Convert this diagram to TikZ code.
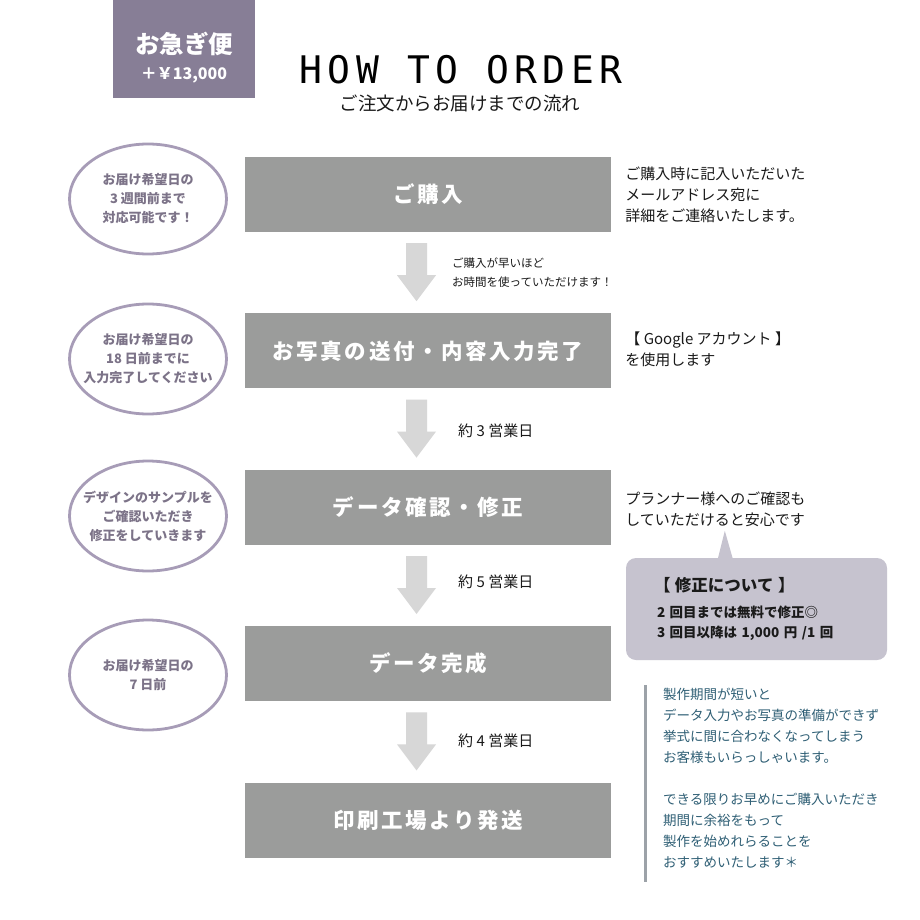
\documentclass[tikz,border=0pt]{standalone}
\usepackage{fontspec}
\setmainfont{Noto Sans CJK JP}
\newfontfamily\titlefont[LetterSpace=14]{DejaVu Sans Mono}
\newfontfamily\boxfont[LetterSpace=12]{Noto Sans CJK JP}
\usetikzlibrary{positioning,calc,shapes.geometric}

\definecolor{badgepurple}{HTML}{877E96}
\definecolor{boxgray}{HTML}{9B9C9B}
\definecolor{arrowgray}{HTML}{D7D7D7}
\definecolor{ovalline}{HTML}{A79CB7}
\definecolor{ovaltext}{HTML}{7C7388}
\definecolor{bubblefill}{HTML}{C6C3CF}
\definecolor{noteteal}{HTML}{2F5F75}
\definecolor{barcolor}{HTML}{9CA2A8}
\definecolor{inkblack}{HTML}{1A1A1A}

\tikzset{
  stepbox/.style={fill=boxgray, minimum width=366pt, minimum height=75pt, inner sep=0pt,
    text=white, font=\fontsize{21.5}{25}\boxfont\bfseries},
  dateoval/.style={ellipse, draw=ovalline, line width=2.8pt, minimum width=157pt,
    minimum height=110pt, inner sep=0pt},
  ovallabel/.style={align=center, text=ovaltext, inner sep=0pt,
    font=\fontsize{13}{19}\selectfont\bfseries},
  sidenote/.style={anchor=west, align=left, inner sep=0pt, text=inkblack,
    font=\fontsize{15}{21}\selectfont},
  waitnote/.style={anchor=west, align=left, inner sep=0pt, text=inkblack,
    font=\fontsize{15}{19}\selectfont},
}

\begin{document}
\begin{tikzpicture}[x=1pt, y=-1pt, node distance=81pt]
  \useasboundingbox[fill=white] (0,0) rectangle (920,920);

  % -- Express badge --
  \node[fill=badgepurple, minimum width=142pt, minimum height=98pt, inner sep=0pt] (badge) at (184,49) {};
  \node[align=center, text=white, inner sep=0pt, font=\fontsize{24.5}{28}\selectfont\bfseries] (badgetext) at (184,58)
    {お急ぎ便\\[-2pt]{\fontsize{16}{18}\selectfont ＋￥13,000}};

  % -- Title --
  \node[font=\fontsize{38}{40}\titlefont] (title) at (461,70) {HOW TO ORDER};
  \node[font=\fontsize{18.5}{22}\selectfont, text=inkblack] (subtitle) at (460,103) {ご注文からお届けまでの流れ};

  % -- Steps --
  \node[stepbox] (b1) at (428,194.5) {ご購入};
  \node[stepbox, below=of b1] (b2) {お写真の送付・内容入力完了};
  \node[stepbox, below=of b2] (b3) {データ確認・修正};
  \node[stepbox, below=of b3] (b4) {データ完成};
  \node[stepbox, below=of b4] (b5) {印刷工場より発送};

  % -- Block arrows --
  \foreach \s in {b1,b2,b3,b4}
    \fill[arrowgray] ($(\s.south)+(-22,11)$) -- ++(21,0) -- ++(0,32) -- ++(9,0)
      -- ++(-19.5,26) -- ++(-19.5,-26) -- ++(9,0) -- cycle;

  % -- Waiting times --
  \node[waitnote, font=\fontsize{11.5}{19}\selectfont] (w1) at ($(b1.south)+(24,40.5)$)
    {ご購入が早いほど\\お時間を使っていただけます！};
  \node[waitnote] (w2) at ($(b2.south)+(30,42)$) {約 3 営業日};
  \node[waitnote] (w3) at ($(b3.south)+(30,37)$) {約 5 営業日};
  \node[waitnote] (w4) at ($(b4.south)+(30,39)$) {約 4 営業日};

  % -- Deadline ovals --
  \node[dateoval] (e1) at (148,199) {};
  \node[dateoval] (e2) at (148,359) {};
  \node[dateoval] (e3) at (148,516) {};
  \node[dateoval] (e4) at (148,675) {};
  \node[ovallabel] (t1) at (e1) {お届け希望日の\\3 週間前まで\\対応可能です！};
  \node[ovallabel] (t2) at (e2) {お届け希望日の\\18 日前までに\\入力完了してください};
  \node[ovallabel] (t3) at (e3) {デザインのサンプルを\\ご確認いただき\\修正をしていきます};
  \node[ovallabel] (t4) at (e4) {お届け希望日の\\7 日前};

  % -- Side notes --
  \node[sidenote, right=14pt of b1] (r1) {ご購入時に記入いただいた\\メールアドレス宛に\\詳細をご連絡いたします。};
  \node[sidenote, right=14pt of b2, yshift=1.5pt] (r2) {【 Google アカウント 】\\を使用します};
  \node[sidenote, right=14pt of b3, yshift=-2pt] (r3) {プランナー様へのご確認も\\していただけると安心です};

  % -- Revision bubble --
  \node[fill=bubblefill, rounded corners=10pt, minimum width=261pt, minimum height=102pt,
    text width=205pt, align=left, text=inkblack, font=\fontsize{13.5}{20}\selectfont\bfseries] (fixbox) at (756.5,609)
    {{\fontsize{16.5}{20}\selectfont 【 修正について 】}\\[6pt]
     \hspace*{3pt}2 回目までは無料で修正◎\\
     \hspace*{3pt}3 回目以降は 1,000 円 /1 回};
  \fill[bubblefill] ($(fixbox.north west)+(92,1)$) -- ($(fixbox.north west)+(99,-27)$)
    -- ($(fixbox.north west)+(107,1)$) -- cycle;

  % -- Closing remark --
  \draw[barcolor, line width=3pt] (645,685) -- (645,882);
  \node[anchor=west, align=left, text=noteteal, inner sep=0pt, font=\fontsize{13.5}{21}\selectfont] (remark) at (663,778)
    {製作期間が短いと\\データ入力やお写真の準備ができず\\挙式に間に合わなくなってしまう\\お客様もいらっしゃいます。\\[21pt]
     できる限りお早めにご購入いただき\\期間に余裕をもって\\製作を始めれらることを\\おすすめいたします＊};

\end{tikzpicture}
\end{document}
